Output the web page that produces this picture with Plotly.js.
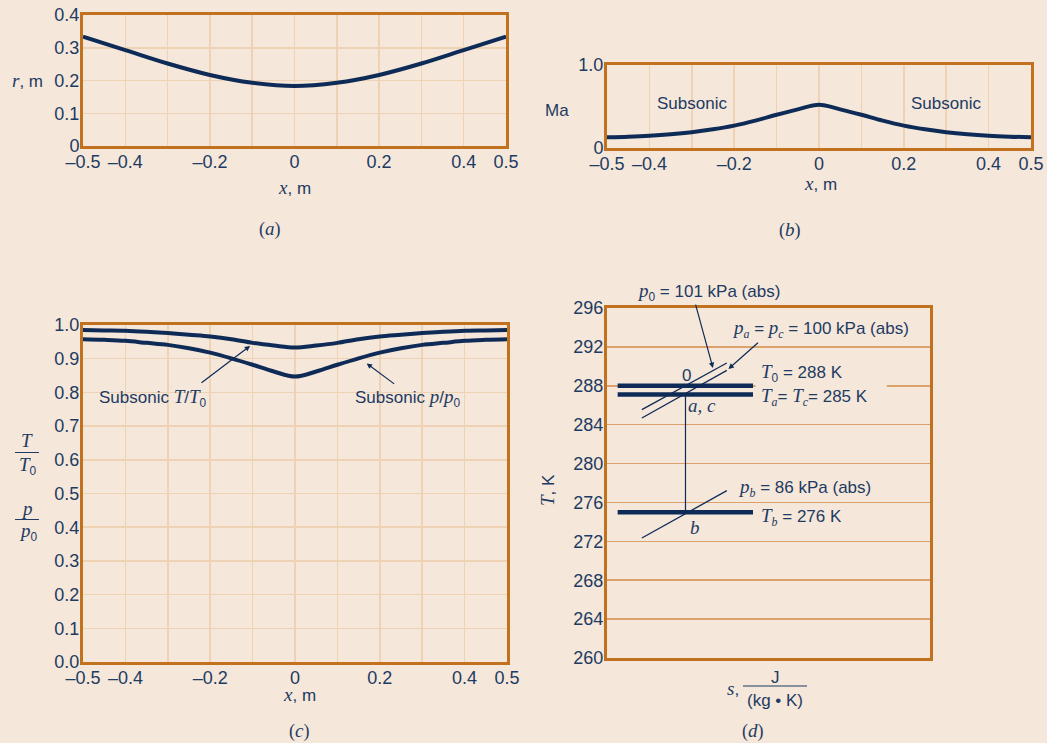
<!DOCTYPE html>
<html>
<head>
<meta charset="utf-8">
<script src="https://cdn.plot.ly/plotly-3.0.1.min.js"></script>
<style>
  html, body { margin: 0; padding: 0; background: #f5e7da; }
  #chart { width: 1047px; height: 743px; }
</style>
</head>
<body>
<div id="chart"></div>
<script>
// ---------------- DATA ----------------
// (a) duct radius vs axial position
const xA = [-0.5, -0.4, -0.3, -0.2, -0.1, 0, 0.1, 0.2, 0.3, 0.4, 0.5];
const rA = [0.334, 0.293, 0.252, 0.217, 0.193, 0.183, 0.193, 0.217, 0.252, 0.293, 0.334];

// (b) Mach number vs axial position
const xB = [-0.5, -0.45, -0.4, -0.35, -0.3, -0.25, -0.2, -0.15, -0.1, -0.05, 0,
            0.05, 0.1, 0.15, 0.2, 0.25, 0.3, 0.35, 0.4, 0.45, 0.5];
const maB = [0.13, 0.137, 0.148, 0.165, 0.19, 0.225, 0.27, 0.33, 0.40, 0.465, 0.52,
             0.465, 0.40, 0.33, 0.27, 0.225, 0.19, 0.165, 0.148, 0.137, 0.13];

// (c) temperature and pressure ratios vs axial position
const xC = xB;
const tRatio = [0.985, 0.984, 0.983, 0.980, 0.976, 0.971, 0.966, 0.958, 0.947, 0.939, 0.933,
                0.939, 0.947, 0.958, 0.966, 0.971, 0.976, 0.980, 0.983, 0.984, 0.985];
const pRatio = [0.958, 0.956, 0.953, 0.947, 0.941, 0.931, 0.918, 0.901, 0.882, 0.862, 0.847,
                0.862, 0.882, 0.901, 0.918, 0.931, 0.941, 0.947, 0.953, 0.956, 0.958];

// (d) T-s diagram (s in arbitrary units, no scale shown)
const stateT = [288.0, 287.1, 275.0];           // T0, Ta = Tc, Tb as drawn
const stateS = [3.3, 45.2];                     // extent of the state bars
const isobarS = [10.8, 37.1];                   // extent of isobars
const isobarP0 = [285.54, 290.34];
const isobarPa = [284.69, 289.58];
const isobarPb = [272.34, 277.21];
const processS = [24.3, 24.3];
const processT = [287.1, 275.0];

// tick labels
const xTickVals = [-0.5, -0.4, -0.2, 0, 0.2, 0.4, 0.5];
const xTickText = ['\u20130.5', '\u20130.4', '\u20130.2', '0', '0.2', '0.4', '0.5'];
const xGridVals = [-0.5, -0.4, -0.3, -0.2, -0.1, 0, 0.1, 0.2, 0.3, 0.4, 0.5];
const yTickValsA = [0, 0.1, 0.2, 0.3, 0.4];
const yTickTextA = ['0', '0.1', '0.2', '0.3', '0.4'];
const yTickValsB = [0, 1];
const yTickTextB = ['0', '1.0'];
const yTickValsC = [0, 0.1, 0.2, 0.3, 0.4, 0.5, 0.6, 0.7, 0.8, 0.9, 1.0];
const yTickTextC = ['0.0', '0.1', '0.2', '0.3', '0.4', '0.5', '0.6', '0.7', '0.8', '0.9', '1.0'];
const yTickValsD = [260, 264, 268, 272, 276, 280, 284, 288, 292, 296];

// ---------------- STYLE ----------------
const BG = '#f5e7da';
const NAVY = '#1d3b63';
const CURVE = '#0e2b57';
const BORDER = '#c2711f';
const GRID = '#efd2b3';
const GRID_D = '#dba26b';
const SANS = 'Liberation Sans, Arial, sans-serif';
const SERIF = 'Liberation Serif, Times New Roman, serif';
const W = 1047, H = 743;

function it(s) { return '<span style="font-family:Liberation Serif;font-style:italic;font-size:19px">' + s + '</span>'; }
function sub(s) { return '<sub><span style="font-family:Liberation Serif;font-style:italic">' + s + '</span></sub>'; }
function px(x) { return x / W; }
function py(y) { return 1 - y / H; }

function axis(domain, range, extra) {
  return Object.assign({
    domain: domain, range: range, showline: true, mirror: true, linecolor: BORDER, linewidth: 3,
    zeroline: false, ticks: '', showgrid: true, gridcolor: GRID, gridwidth: 1.5,
    ticklabelstandoff: -3,
    tickfont: {family: SANS, size: 18, color: NAVY}, fixedrange: true
  }, extra || {});
}
const xMinor = {tickvals: xGridVals, showgrid: true, gridcolor: GRID, gridwidth: 1.5, ticks: ''};

const traces = [
  {x: xA, y: rA, xaxis: 'x', yaxis: 'y', mode: 'lines', line: {color: CURVE, width: 4, shape: 'spline'}},
  {x: xB, y: maB, xaxis: 'x2', yaxis: 'y2', mode: 'lines', line: {color: CURVE, width: 4, shape: 'spline'}},
  {x: xC, y: tRatio, xaxis: 'x3', yaxis: 'y3', mode: 'lines', line: {color: CURVE, width: 4, shape: 'spline'}},
  {x: xC, y: pRatio, xaxis: 'x3', yaxis: 'y3', mode: 'lines', line: {color: CURVE, width: 4, shape: 'spline'}},
  {x: isobarS, y: isobarP0, xaxis: 'x4', yaxis: 'y4', mode: 'lines', line: {color: CURVE, width: 1.3}},
  {x: isobarS, y: isobarPa, xaxis: 'x4', yaxis: 'y4', mode: 'lines', line: {color: CURVE, width: 1.3}},
  {x: isobarS, y: isobarPb, xaxis: 'x4', yaxis: 'y4', mode: 'lines', line: {color: CURVE, width: 1.3}},
  {x: processS, y: processT, xaxis: 'x4', yaxis: 'y4', mode: 'lines', line: {color: CURVE, width: 1.2}}
];
stateT.forEach(function (T) {
  traces.push({x: stateS, y: [T, T], xaxis: 'x4', yaxis: 'y4', mode: 'lines', line: {color: CURVE, width: 4.5}});
});

const ann = [];
function txt(x, y, text, opts) {
  ann.push(Object.assign({x: x, y: y, xref: 'paper', yref: 'paper', text: text, showarrow: false,
    font: {family: SANS, size: 17, color: NAVY}, xanchor: 'center', yanchor: 'middle'}, opts || {}));
}
function arrow(xr, yr, hx, hy, tx, ty) {
  ann.push({x: hx, y: hy, ax: tx, ay: ty, xref: xr, yref: yr, axref: xr, ayref: yr, text: '',
    showarrow: true, arrowhead: 2, arrowsize: 0.9, arrowwidth: 1.2, arrowcolor: CURVE, standoff: 0, startstandoff: 0});
}
const capFont = {family: SERIF, size: 18, color: NAVY};

// (a)
txt(px(27), py(80), it('r') + ', m');
txt(px(294), py(187), it('x') + ', m');
txt(px(270), py(229), '(' + it('a') + ')', {font: capFont});
// (b)
txt(px(557), py(111), 'Ma');
txt(px(820), py(184), it('x') + ', m');
txt(px(790), py(230), '(' + it('b') + ')', {font: capFont});
ann.push({x: -0.3, y: 0.54, xref: 'x2', yref: 'y2', text: 'Subsonic', showarrow: false, font: {family: SANS, size: 17, color: NAVY}});
ann.push({x: 0.3, y: 0.54, xref: 'x2', yref: 'y2', text: 'Subsonic', showarrow: false, font: {family: SANS, size: 17, color: NAVY}});
// (c)
txt(px(299), py(694), it('x') + ', m');
txt(px(299), py(731), '(' + it('c') + ')', {font: capFont});
txt(px(27), py(441), it('T'));
txt(px(28), py(466), it('T') + '<sub>0</sub>');
txt(px(27), py(508), it('p'));
txt(px(28), py(532), it('p') + '<sub>0</sub>');
txt(px(97), py(398), 'Subsonic ' + it('T') + '/' + it('T') + '<sub>0</sub>', {xanchor: 'left'});
txt(px(353), py(398), 'Subsonic ' + it('p') + '/' + it('p') + '<sub>0</sub>', {xanchor: 'left'});
arrow('x3', 'y3', -0.106, 0.938, -0.224, 0.825);
arrow('x3', 'y3', 0.169, 0.886, 0.2375, 0.822);
// (d)
txt(px(548), py(490), it('T') + ', K', {textangle: -90});
txt(px(733), py(688), it('s') + ',');
txt(px(775), py(677), 'J');
txt(px(775), py(700), '(kg \u2022 K)');
txt(px(753), py(731), '(' + it('d') + ')', {font: capFont});
txt(px(635), py(292), it('p') + '<sub>0</sub> = 101 kPa (abs)', {xanchor: 'left'});
txt(px(730), py(329), it('p') + sub('a') + ' = ' + it('p') + sub('c') + ' = 100 kPa (abs)', {xanchor: 'left'});
txt(px(686), py(375), '0');
txt(px(759), py(373), it('T') + '<sub>0</sub> = 288 K', {xanchor: 'left'});
txt(px(759), py(397), it('T') + sub('a') + '= ' + it('T') + sub('c') + '= 285 K', {xanchor: 'left'});
txt(px(702), py(405), it('a, c'));
txt(px(736), py(488), it('p') + sub('b') + ' = 86 kPa (abs)', {xanchor: 'left'});
txt(px(759), py(517), it('T') + sub('b') + ' = 276 K', {xanchor: 'left'});
txt(px(695), py(527), it('b'));
arrow('x4', 'y4', 32.8, 289.83, 27.3, 296.5);
arrow('x4', 'y4', 37.6, 289.73, 47.2, 292.56);

const shapes = [
  {type: 'line', xref: 'paper', yref: 'paper', x0: px(15), x1: px(39), y0: py(452.5), y1: py(452.5), line: {color: NAVY, width: 1}},
  {type: 'line', xref: 'paper', yref: 'paper', x0: px(15), x1: px(39), y0: py(519.5), y1: py(519.5), line: {color: NAVY, width: 1}},
  {type: 'line', xref: 'paper', yref: 'paper', x0: px(743), x1: px(807), y0: py(686), y1: py(686), line: {color: NAVY, width: 1}},
  {type: 'rect', xref: 'x4', yref: 'y4', x0: 46, x1: 86.6, y0: 287.6, y1: 288.4, layer: 'between', fillcolor: BG, line: {width: 0}}
];

const layout = {
  width: W, height: H, margin: {l: 0, r: 0, t: 0, b: 0},
  paper_bgcolor: BG, plot_bgcolor: BG, showlegend: false,
  font: {family: SANS, color: NAVY},
  xaxis: axis([px(83), px(506)], [-0.5, 0.5], {anchor: 'y', tickvals: xTickVals, ticktext: xTickText, minor: xMinor}),
  yaxis: axis([py(146), py(15)], [0, 0.4], {anchor: 'x', tickvals: yTickValsA, ticktext: yTickTextA}),
  xaxis2: axis([px(607), px(1031)], [-0.5, 0.5], {anchor: 'y2', tickvals: xTickVals, ticktext: xTickText, minor: xMinor}),
  yaxis2: axis([py(148), py(65)], [0, 1], {anchor: 'x2', tickvals: yTickValsB, ticktext: yTickTextB, showgrid: false}),
  xaxis3: axis([px(83), px(507)], [-0.5, 0.5], {anchor: 'y3', tickvals: xTickVals, ticktext: xTickText, minor: xMinor}),
  yaxis3: axis([py(662), py(325)], [0, 1], {anchor: 'x3', tickvals: yTickValsC, ticktext: yTickTextC}),
  xaxis4: axis([px(607), px(930)], [0, 100], {anchor: 'y4', showgrid: false, showticklabels: false}),
  yaxis4: axis([py(658), py(308)], [260, 296], {anchor: 'x4', tickvals: yTickValsD, gridcolor: GRID_D}),
  annotations: ann,
  shapes: shapes
};

Plotly.newPlot('chart', traces, layout, {displayModeBar: false, staticPlot: true});
</script>
</body>
</html>
